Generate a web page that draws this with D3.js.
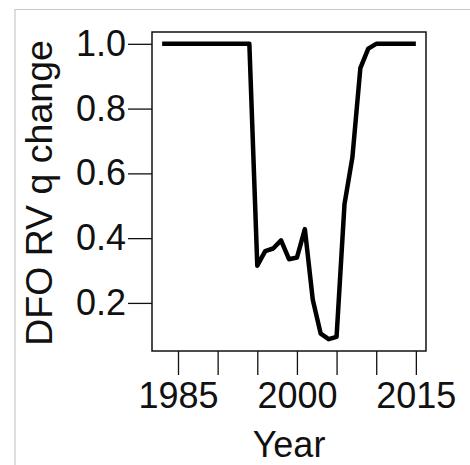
<!DOCTYPE html>
<html>
<head>
<meta charset="utf-8">
<script src="https://cdn.jsdelivr.net/npm/d3@7"></script>
<style>
  body { margin: 0; background: #fff; }
  text { font-family: "Liberation Sans", Arial, sans-serif; fill: #111; }
</style>
</head>
<body>
<div class="vis"></div>
<script>
'use strict';

// data
var years = [1983, 1984, 1985, 1986, 1987, 1988, 1989, 1990, 1991, 1992, 1993, 1994,
  1995, 1996, 1997, 1998, 1999, 2000, 2001, 2002, 2003, 2004, 2005, 2006,
  2007, 2008, 2009, 2010, 2011, 2012, 2013, 2014, 2015];
var qChange = [1, 1, 1, 1, 1, 1, 1, 1, 1, 1, 1, 1,
  0.315, 0.36, 0.368, 0.393, 0.335, 0.34, 0.428, 0.21, 0.105, 0.088, 0.095, 0.505,
  0.65, 0.925, 0.985, 1, 1, 1, 1, 1, 1];
var xTicks = [1985, 1990, 1995, 2000, 2005, 2010, 2015];
var xLabels = [1985, 2000, 2015];
var yTicks = [0.2, 0.4, 0.6, 0.8, 1.0];

var width = 470, height = 465;
var box = { left: 152, right: 426, top: 32, bottom: 351 };

var svg = d3.select('.vis').append('svg')
  .attr('width', width)
  .attr('height', height);

// light frame round the figure
svg.append('path')
  .attr('d', 'M15,465 L15,9.5 L470,9.5')
  .attr('fill', 'none')
  .attr('stroke', '#c8c8c8')
  .attr('stroke-width', 1.2);

// R style 4% padding on both axes
var xPad = (2015 - 1983) * 0.04;
var x = d3.scaleLinear()
  .domain([1983 - xPad, 2015 + xPad])
  .range([box.left, box.right]);

var yMin = d3.min(qChange), yMax = d3.max(qChange);
var yPad = (yMax - yMin) * 0.04;
var y = d3.scaleLinear()
  .domain([yMin - yPad, yMax + yPad])
  .range([box.bottom, box.top]);

// x axis
var xAxis = svg.append('g')
  .attr('transform', 'translate(0,' + box.bottom + ')')
  .call(d3.axisBottom(x)
    .tickValues(xTicks)
    .tickSize(24)
    .tickPadding(7)
    .tickFormat(function(d) { return xLabels.indexOf(d) >= 0 ? d : ''; }));
xAxis.select('.domain').remove();
xAxis.selectAll('line').attr('stroke', '#111').attr('stroke-width', 1.3);
xAxis.selectAll('text').attr('font-size', 36).attr('fill', '#111');

// y axis
var yAxis = svg.append('g')
  .attr('transform', 'translate(' + box.left + ',0)')
  .call(d3.axisLeft(y)
    .tickValues(yTicks)
    .tickSize(24)
    .tickPadding(2)
    .tickFormat(d3.format('.1f')));
yAxis.select('.domain').remove();
yAxis.selectAll('line').attr('stroke', '#111').attr('stroke-width', 1.3);
yAxis.selectAll('text').attr('font-size', 36).attr('fill', '#111');

// plot box
svg.append('rect')
  .attr('x', box.left)
  .attr('y', box.top)
  .attr('width', box.right - box.left)
  .attr('height', box.bottom - box.top)
  .attr('fill', 'none')
  .attr('stroke', '#111')
  .attr('stroke-width', 1.5);

// the series
var line = d3.line()
  .x(function(d, i) { return x(years[i]); })
  .y(function(d) { return y(d); });

svg.append('path')
  .datum(qChange)
  .attr('d', line)
  .attr('fill', 'none')
  .attr('stroke', '#000')
  .attr('stroke-width', 4.5)
  .attr('stroke-linejoin', 'round')
  .attr('stroke-linecap', 'butt');

// axis titles
svg.append('text')
  .attr('x', 289)
  .attr('y', 457)
  .attr('text-anchor', 'middle')
  .attr('font-size', 36)
  .text('Year');

svg.append('text')
  .attr('transform', 'translate(52,193) rotate(-90)')
  .attr('text-anchor', 'middle')
  .attr('font-size', 37.5)
  .text('DFO RV q change');
</script>
</body>
</html>
